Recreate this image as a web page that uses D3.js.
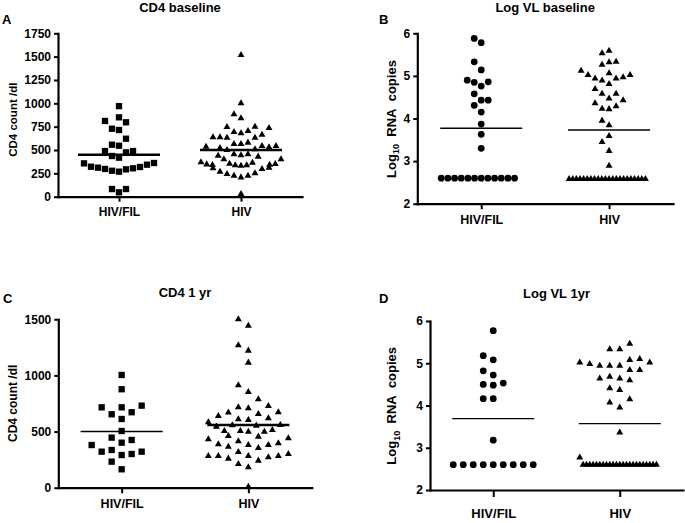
<!DOCTYPE html>
<html><head><meta charset="utf-8">
<script src="https://cdn.jsdelivr.net/npm/d3@7"></script>
<style>
body{margin:0;background:#fff}
svg{display:block}
text{font-family:"Liberation Sans",Arial,sans-serif;font-weight:bold;fill:#000}
</style>
</head><body>
<svg id="chart" width="685" height="523"></svg>
<script>
// ---------------- data ----------------
const groups = ["HIV/FIL", "HIV"];
const panelTitles = ["CD4 baseline", "Log VL baseline", "CD4 1 yr", "Log VL 1yr"];
const panelLetters = ["A", "B", "C", "D"];
const cd4BaseTicks = [0, 250, 500, 750, 1000, 1250, 1500, 1750];
const cd4YrTicks = [0, 500, 1000, 1500];
const vlTicks = [2, 3, 4, 5, 6];

const cd4BaseHivFil = [970, 850, 811, 797, 728, 714, 621, 557, 546, 489, 489, 475, 436, 418, 361, 357, 343, 321, 318, 311, 304, 297, 293, 278, 268, 82, 82, 47];
const cd4BaseHiv = [1518, 1000, 882, 839, 750, 746, 736, 704, 693, 679, 664, 636, 636, 632, 632, 579, 564, 564, 543, 543, 536, 529, 521, 507, 500, 454, 454, 443, 439, 429, 400, 400, 368, 364, 354, 350, 346, 343, 339, 336, 336, 332, 311, 304, 296, 268, 250, 243, 225, 225, 207, 29];
const cd4BaseLines = [450, 500];

const vlBaseHivFil = [5.88, 5.78, 5.33, 5.14, 4.90, 4.86, 4.85, 4.76, 4.58, 4.43, 4.43, 4.31, 4.15, 3.87, 3.63, 3.30, 2.6, 2.6, 2.6, 2.6, 2.6, 2.6, 2.6, 2.6, 2.6, 2.6, 2.6, 2.6];
const vlBaseHiv = [5.59, 5.53, 5.33, 5.32, 5.26, 5.12, 5.06, 5.02, 5.02, 4.97, 4.94, 4.94, 4.89, 4.81, 4.69, 4.58, 4.58, 4.47, 4.43, 4.36, 4.29, 4.23, 4.22, 3.95, 3.84, 3.59, 3.45, 3.24, 2.89, 2.58, 2.58, 2.58, 2.58, 2.58, 2.58, 2.58, 2.58, 2.58, 2.58, 2.58, 2.58, 2.58, 2.58, 2.58, 2.58, 2.58, 2.58, 2.58, 2.58, 2.58, 2.58];
const vlBaseLines = [3.77, 3.73];

const cd4YrHivFil = [1004, 877, 731, 716, 716, 672, 654, 612, 505, 446, 425, 401, 380, 336, 321, 321, 300, 291, 232, 164];
const cd4YrHiv = [1500, 1443, 1268, 1221, 1114, 912, 853, 788, 728, 716, 707, 672, 669, 657, 639, 618, 609, 603, 583, 559, 556, 553, 544, 514, 505, 505, 499, 499, 461, 455, 440, 431, 413, 395, 387, 380, 380, 365, 354, 318, 300, 282, 282, 282, 282, 271, 259, 241, 211, 182, 9];
const cd4YrLines = [500, 558];

const vlYrHivFil = [5.77, 5.18, 5.08, 4.82, 4.72, 4.53, 4.50, 4.48, 4.16, 4.16, 3.18, 2.6, 2.6, 2.6, 2.6, 2.6, 2.6, 2.6, 2.6, 2.6];
const vlYrHiv = [5.46, 5.33, 5.33, 5.10, 5.08, 5.02, 5.02, 4.98, 4.94, 4.94, 4.94, 4.84, 4.84, 4.68, 4.64, 4.64, 4.60, 4.41, 4.37, 4.15, 4.07, 3.95, 3.36, 2.77, 2.6, 2.6, 2.6, 2.6, 2.6, 2.6, 2.6, 2.6, 2.6, 2.6, 2.6, 2.6, 2.6, 2.6, 2.6, 2.6, 2.6, 2.6, 2.6, 2.6, 2.6, 2.6, 2.6];
const vlYrLines = [3.69, 3.57];

// ---------------- layout ----------------
const panels = [
  {series:[cd4BaseHivFil, cd4BaseHiv], lines:cd4BaseLines, ticks:cd4BaseTicks, domain:[0,1750], cd4:true,
   x0:58, x1:302, yTop:33.3, yBot:196.7, titleY:11.5, letterX:2, letterY:24, yTitle:[16.5,119.7], yTitleSize:11.5,
   catSize:12, tickSize:5, catPad:5.8, dx:7, lineW:[2.6,2.6]},
  {series:[vlBaseHivFil, vlBaseHiv], lines:vlBaseLines, ticks:vlTicks, domain:[2,6], cd4:false,
   x0:417.3, x1:673, yTop:33.3, yBot:203.7, titleY:11.5, letterX:379, letterY:24, yTitle:[395.5,119], yTitleSize:13,
   catSize:12.5, tickSize:5.5, catPad:5.5, dx:7, lineW:[1.4,1.4]},
  {series:[cd4YrHivFil, cd4YrHiv], lines:cd4YrLines, ticks:cd4YrTicks, domain:[0,1500], cd4:true,
   x0:58.3, x1:311.7, yTop:319.3, yBot:487.7, titleY:297, letterX:3, letterY:302.5, yTitle:[17,403.3], yTitleSize:12,
   catSize:12.5, tickSize:5.5, catPad:5.5, dx:10, lineW:[1.4,2.6]},
  {series:[vlYrHivFil, vlYrHiv], lines:vlYrLines, ticks:vlTicks, domain:[2,6], cd4:false,
   x0:430, x1:683, yTop:321, yBot:490, titleY:298, letterX:379, letterY:302.5, yTitle:[396,405.8], yTitleSize:13,
   catSize:13, tickSize:7, catPad:12, dx:10, lineW:[1.4,1.4]}
];

const svg = d3.select("#chart");

function swarm(values, yScale, dx, dy, maxHalf){
  const pts = values.map(v => ({v, y: yScale(v)})).sort((a,b) => b.y - a.y);
  const cols = new Map();
  const rowMax = [];
  let row = -1;
  for (const p of pts){
    let k = null;
    for (let j = 0; k === null; j++){
      const cands = j === 0 ? [0] : [-j, j];
      for (const c of cands){
        const col = cols.get(c) || [];
        if (col.every(y => Math.abs(y - p.y) >= dy)) { k = c; break; }
      }
    }
    if (k === 0 || row < 0) row++;
    p.k = k; p.row = row;
    if (!cols.has(k)) cols.set(k, []);
    cols.get(k).push(p.y);
    rowMax[row] = Math.max(rowMax[row] || 0, Math.abs(k));
  }
  pts.forEach(p => {
    const m = rowMax[p.row];
    const s = m > 0 ? Math.min(dx, maxHalf / m) : dx;
    p.x = p.k * s;
  });
  return pts;
}

panels.forEach((P, pi) => {
  const g = svg.append("g");
  const y = d3.scaleLinear().domain(P.domain).range([P.yBot, P.yTop]);
  const x = d3.scalePoint().domain(groups).range([P.x0, P.x1]).padding(0.5);

  // title & letter
  g.append("text").attr("x", (P.x0 + P.x1) / 2).attr("y", P.titleY)
    .attr("text-anchor", "middle").attr("font-size", 13).text(panelTitles[pi]);
  g.append("text").attr("x", P.letterX).attr("y", P.letterY)
    .attr("font-size", 13).text(panelLetters[pi]);

  // y axis
  const ya = g.append("g").attr("transform", `translate(${P.x0},0)`)
    .call(d3.axisLeft(y).tickValues(P.ticks).tickSize(4).tickSizeOuter(0).tickPadding(3)
      .tickFormat(d3.format("d")));
  ya.select(".domain").attr("stroke-width", 2.2).attr("stroke-linecap", "square");
  ya.selectAll(".tick line").attr("stroke-width", 2);
  ya.selectAll(".tick text").attr("font-size", 12).attr("font-family", '"Liberation Sans",Arial,sans-serif').attr("font-weight", "bold");

  // x axis
  const xa = g.append("g").attr("transform", `translate(0,${P.yBot})`)
    .call(d3.axisBottom(x).tickSize(P.tickSize).tickSizeOuter(0).tickPadding(P.catPad));
  xa.select(".domain").attr("stroke-width", 2.2).attr("stroke-linecap", "square");
  xa.selectAll(".tick line").attr("stroke-width", 2);
  xa.selectAll(".tick text").attr("font-size", P.catSize).attr("font-family", '"Liberation Sans",Arial,sans-serif').attr("font-weight", "bold");

  // y title
  const yt = g.append("text").attr("transform", `translate(${P.yTitle[0]},${P.yTitle[1]}) rotate(-90)`)
    .attr("text-anchor", "middle").attr("font-size", P.yTitleSize);
  if (P.cd4) {
    yt.text("CD4 count /dl");
  } else {
    yt.append("tspan").text("Log");
    yt.append("tspan").attr("font-size", P.yTitleSize * 0.7).attr("dy", 3.5).text("10");
    yt.append("tspan").attr("dy", -3.5).text("\u00a0\u00a0RNA\u00a0\u00a0copies");
  }

  // points
  const shapes = P.cd4 ? [d3.symbolSquare, d3.symbolTriangle] : [d3.symbolCircle, d3.symbolTriangle];
  const sizes = P.cd4 ? [40, 21] : [36, 21];
  P.series.forEach((vals, si) => {
    const pts = swarm(vals, y, P.dx, 10, 40);
    const cx = x(groups[si]);
    g.append("g").selectAll("path").data(pts).join("path")
      .attr("d", d3.symbol().type(shapes[si]).size(sizes[si]))
      .attr("transform", d => `translate(${cx + d.x},${d.y})`)
      .attr("fill", "#000");
  });

  // center lines
  P.lines.forEach((v, si) => {
    const cx = x(groups[si]);
    g.append("line").attr("x1", cx - 41).attr("x2", cx + 41)
      .attr("y1", y(v)).attr("y2", y(v))
      .attr("stroke", "#000").attr("stroke-width", P.lineW[si]);
  });
});
</script>
</body></html>
